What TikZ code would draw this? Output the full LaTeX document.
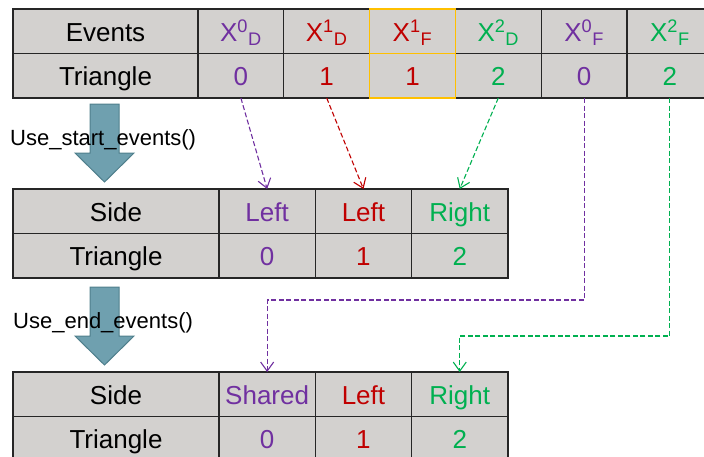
\documentclass[tikz,border=0pt]{standalone}
\usepackage{fontspec}
\setmainfont{Liberation Sans}
\usetikzlibrary{positioning,arrows.meta}
\definecolor{evpurple}{HTML}{7030A0}
\definecolor{evred}{HTML}{C00000}
\definecolor{evgreen}{HTML}{00B050}
\definecolor{evorange}{HTML}{FFC000}
\definecolor{cellgray}{HTML}{D3D1CF}
\definecolor{tabline}{HTML}{262626}
\definecolor{arrowfill}{HTML}{6FA0AF}
\definecolor{arrowedge}{HTML}{4F7F8C}
\newcommand{\evt}[2]{X\textsuperscript{#1}\textsubscript{#2}}

\begin{document}
\begin{tikzpicture}[x=1pt,y=-1pt,
    cell/.style={draw=tabline,fill=cellgray,line width=1.3pt,inner sep=0pt,outer sep=0pt,
      minimum height=44.5pt,text height=20pt,text depth=0pt,font=\fontsize{26}{28}\selectfont},
    ecol/.style={minimum width=85.8pt},
    scol/.style={minimum width=96.3pt},
    hl/.style={draw=evorange,line width=1.3pt},
    link/.style={line width=1.1pt,dash pattern=on 5pt off 2.5pt,-{Straight Barb[length=9pt,width=13pt]}},
    bigarrow/.style={fill=arrowfill,draw=arrowedge,line width=1pt},
    steplabel/.style={inner sep=0pt,font=\fontsize{22}{24}\selectfont}]
  \clip (0,0) rectangle (704,456);

  % events table
  \node[cell,minimum width=185pt] (events) at (105.5,31.25) {Events};
  \node[cell,minimum width=185pt,below=0pt of events] (tri) {Triangle};
  \foreach \name/\s/\b/\col/\idx [remember=\name as \prev (initially events)] in
      {x0d/0/D/evpurple/0, x1d/1/D/evred/1, x1f/1/F/evred/1,
       x2d/2/D/evgreen/2, x0f/0/F/evpurple/0, x2f/2/F/evgreen/2} {
    \node[cell,ecol,text=\col,right=0pt of \prev] (\name) {\evt{\s}{\b}};
    \node[cell,ecol,text=\col,below=0pt of \name] (t\name) {\idx};
  }
  \draw[hl] (x1f.north west) rectangle (tx1f.south east) (x1f.south west) -- (x1f.south east);

  % after Use_start_events()
  \node[cell,minimum width=206pt] (side) at (116,211.25) {Side};
  \node[cell,minimum width=206pt,below=0pt of side] (mtri) {Triangle};
  \foreach \name/\txt/\col/\idx [remember=\name as \prev (initially side)] in
      {sa/Left/evpurple/0, sb/Left/evred/1, sc/Right/evgreen/2} {
    \node[cell,scol,text=\col,right=0pt of \prev] (\name) {\txt};
    \node[cell,scol,text=\col,below=0pt of \name] (t\name) {\idx};
  }

  % after Use_end_events()
  \node[cell,minimum width=206pt] (bside) at (116,394.25) {Side};
  \node[cell,minimum width=206pt,below=0pt of bside] (btri) {Triangle};
  \foreach \name/\txt/\col/\idx [remember=\name as \prev (initially bside)] in
      {ea/Shared/evpurple/0, eb/Left/evred/1, ec/Right/evgreen/2} {
    \node[cell,scol,text=\col,right=0pt of \prev] (\name) {\txt};
    \node[cell,scol,text=\col,below=0pt of \name] (t\name) {\idx};
  }

  \foreach \t in {104,287}
    \draw[bigarrow] (90,\t) -- (119,\t) -- (119,\t+49) -- (134,\t+49)
      -- (104.5,\t+78) -- (75,\t+49) -- (90,\t+49) -- cycle;
  \node[steplabel,anchor=base west] (startlbl) at (10,145) {Use\_start\_events()};
  \node[steplabel,anchor=base west] (endlbl) at (13,328) {Use\_end\_events()};

  \draw[link,evpurple] (tx0d.south) -- (sa.north);
  \draw[link,evred] (tx1d.south) -- (sb.north);
  \draw[link,evgreen] (tx2d.south) -- (sc.north);
  \draw[link,evpurple] (tx0f.south) -- ++(0,202) -| (ea.north);
  \draw[link,evgreen] (tx2f.south) -- ++(0,238) -| (ec.north);
\end{tikzpicture}
\end{document}
